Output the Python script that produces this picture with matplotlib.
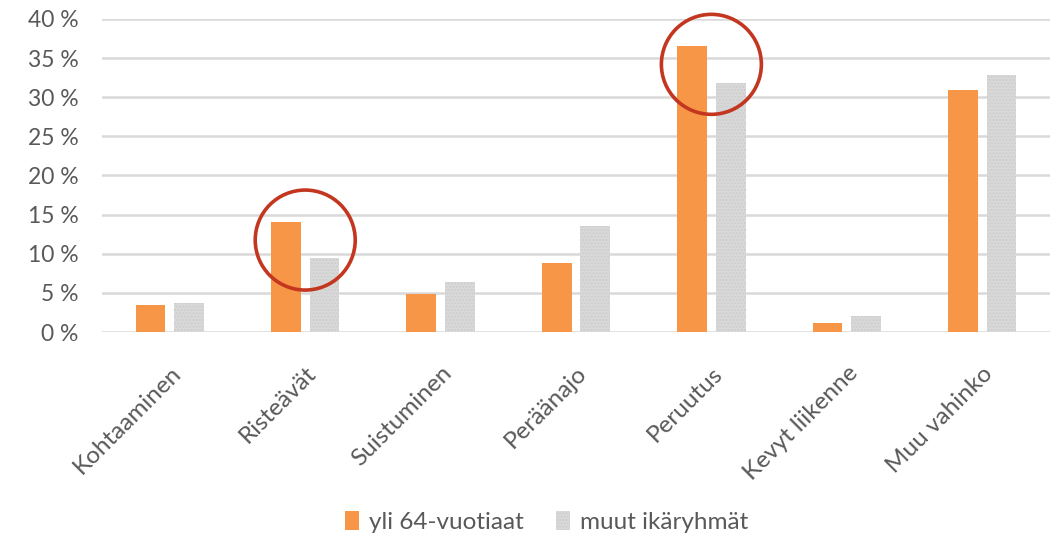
import numpy as np
import matplotlib.pyplot as plt
from matplotlib.patches import Ellipse

plt.rcParams['font.family'] = ['Lato', 'DejaVu Sans']

categories = ['Kohtaaminen', 'Risteävät', 'Suistuminen', 'Peräänajo',
              'Peruutus', 'Kevyt liikenne', 'Muu vahinko']
yli_64 = [3.5, 14.0, 4.8, 8.8, 36.6, 1.2, 30.9]
muut = [3.7, 9.5, 6.4, 13.5, 31.8, 2.1, 32.8]
series_names = ['yli 64-vuotiaat', 'muut ikäryhmät']
highlighted = ['Risteävät', 'Peruutus']
yticks = [0, 5, 10, 15, 20, 25, 30, 35, 40]

orange = '#F79646'
grey = '#D9D9D9'
text_col = '#595959'

fig = plt.figure(figsize=(10.53, 5.37), dpi=100)
ax = fig.add_axes([0.097, 0.3817, 0.9, 0.583])

x = np.arange(len(categories))
w = 0.22
gap = 0.065
ax.bar(x - (w + gap) / 2, yli_64, w, color=orange, label=series_names[0], zorder=3)
ax.bar(x + (w + gap) / 2, muut, w, color=grey, edgecolor='#CDCDCD', hatch='.....',
       linewidth=0, label=series_names[1], zorder=3)

ax.set_xlim(-0.5, len(categories) - 0.5)
ax.set_ylim(0, 40)
ax.set_yticks(yticks)
ax.set_yticklabels([f'{t} %' for t in yticks], fontsize=16.5, color=text_col)
ax.yaxis.grid(True, color='#D9D9D9', linewidth=1.8, zorder=0)
ax.set_axisbelow(True)
for s in ax.spines.values():
    s.set_visible(False)
ax.tick_params(axis='both', length=0)
ax.tick_params(axis='y', pad=17)

ax.set_xticks(x)
ax.set_xticklabels(categories, rotation=45, ha='right', rotation_mode='anchor',
                   fontsize=17.5, color=text_col)
ax.tick_params(axis='x', pad=22)

# red circles round the highlighted categories, sized in pixels
px_per_x = ax.bbox.width / len(categories)
px_per_y = ax.bbox.height / 40
r_px = 50
for name in highlighted:
    i = categories.index(name)
    cy = (yli_64[i] + muut[i]) / 2
    ax.add_patch(Ellipse((i, cy), 2 * r_px / px_per_x, 2 * r_px / px_per_y,
                         fill=False, edgecolor='#C3361F', linewidth=2.6,
                         zorder=5, clip_on=False))

leg = fig.legend(loc='center', bbox_to_anchor=(0.519, 0.028), ncol=2, frameon=False,
                 fontsize=17.5, handlelength=0.6, handleheight=0.8, columnspacing=1.3,
                 handletextpad=0.4)
for t in leg.get_texts():
    t.set_color(text_col)

fig.savefig('out.png', dpi=100)
